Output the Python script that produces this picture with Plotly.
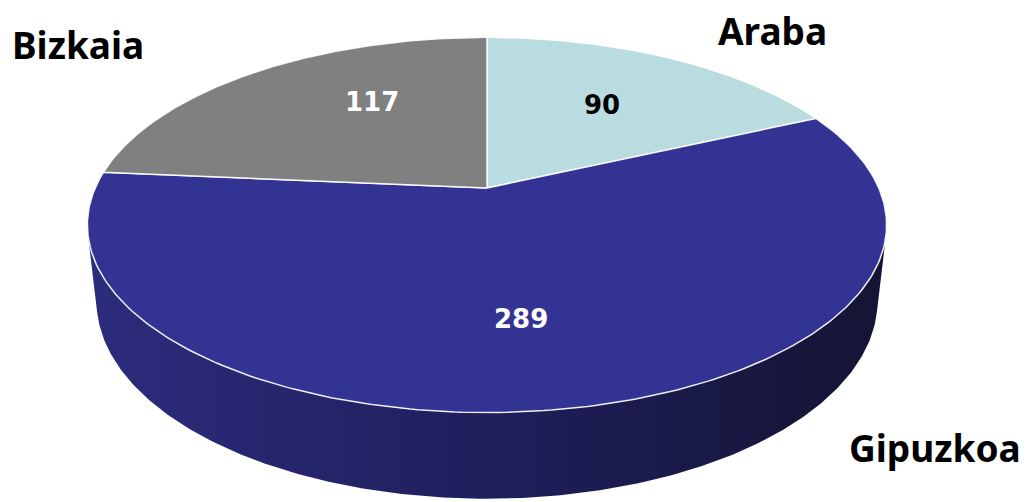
import numpy as np
import plotly.graph_objects as go

# ---- data ----
categories = ["Araba", "Gipuzkoa", "Bizkaia"]
values = [90, 289, 117]

# ---- style ----
slice_colors = ["#b8dcdf", "#333394", "#808080"]
value_font_colors = ["#000000", "#ffffff", "#ffffff"]
side_colorscale = [[0, "#2c2c7d"], [0.5, "#1f1f5d"], [1, "#141433"]]
label_radius = [0.6, 0.64, 0.62]
label_angle_shift = [0, 3, 11]
cat_label_pos = [(772, 30), (935, 447), (78, 44)]

W, H = 1028, 502
CX, CY = 487, 188          # projected pie centre
F = 1767                   # focal scale
PHI = np.radians(27.4)     # camera elevation
D = 4.51                   # camera distance
DEPTH = 0.219              # pie thickness (radius = 1)
cphi, sphi = np.cos(PHI), np.sin(PHI)


def proj(X, Y, Z):
    depth = D + Y * cphi - Z * sphi
    xs = CX + F * X / depth
    ys = CY - F * (Y * sphi + Z * cphi) / depth
    return xs, ys


def rim(t0, t1, z, r=1.0, n=240):
    th = np.radians(np.linspace(t0, t1, n))
    return proj(r * np.sin(th), r * np.cos(th), z)


total = sum(values)
angles = np.concatenate([[0], np.cumsum(values) / total * 360.0])

fig = go.Figure()

# visible side arc (silhouette of the cylinder)
cam_ground = D * cphi
sil = np.degrees(np.arccos(1.0 / cam_ground))
vis0, vis1 = 180 - sil, 180 + sil

for i, cat in enumerate(categories):
    a0, a1 = angles[i], angles[i + 1]
    t0, t1 = max(a0, vis0), min(a1, vis1)
    if t1 > t0:
        xt, yt = rim(t0, t1, 0.0)
        xb, yb = rim(t1, t0, -DEPTH)
        fig.add_trace(go.Scatter(
            x=np.concatenate([xt, xb, xt[:1]]),
            y=np.concatenate([yt, yb, yt[:1]]),
            mode="lines", fill="toself",
            fillgradient=dict(type="horizontal", colorscale=side_colorscale),
            line=dict(width=0, color="rgba(0,0,0,0)"),
            hoverinfo="skip", showlegend=False))

for i, cat in enumerate(categories):
    a0, a1 = angles[i], angles[i + 1]
    xr, yr = rim(a0, a1, 0.0)
    vx, vy = proj(0.0, 0.0, 0.0)
    fig.add_trace(go.Scatter(
        x=np.concatenate([[vx], xr, [vx]]),
        y=np.concatenate([[vy], yr, [vy]]),
        mode="lines", fill="toself", fillcolor=slice_colors[i],
        line=dict(width=1.5, color="rgba(255,255,255,0.9)"),
        hoverinfo="skip", showlegend=False, name=cat))

annotations = []
for i, cat in enumerate(categories):
    mid = np.radians((angles[i] + angles[i + 1]) / 2 + label_angle_shift[i])
    r = label_radius[i]
    lx, ly = proj(r * np.sin(mid), r * np.cos(mid), 0.0)
    annotations.append(dict(
        x=lx, y=ly, xref="x", yref="y", text=f"<b>{values[i]}</b>",
        showarrow=False, xanchor="center", yanchor="middle",
        font=dict(family="DejaVu Sans", size=26, color=value_font_colors[i])))
    px_, py_ = cat_label_pos[i]
    annotations.append(dict(
        x=px_, y=py_, xref="x", yref="y", text=f"<b>{cat}</b>",
        showarrow=False, xanchor="center", yanchor="middle",
        font=dict(family="Noto Sans", size=37, color="#000000")))

fig.update_layout(
    width=W, height=H,
    margin=dict(l=0, r=0, t=0, b=0),
    paper_bgcolor="white", plot_bgcolor="white",
    xaxis=dict(range=[0, W], visible=False, fixedrange=True),
    yaxis=dict(range=[H, 0], visible=False, fixedrange=True),
    annotations=annotations,
    showlegend=False,
)

fig.write_html(
    "out.html",
    config={"displayModeBar": False},
    post_script="document.body.style.margin='0';document.body.style.padding='0';document.body.style.overflow='hidden';",
)
